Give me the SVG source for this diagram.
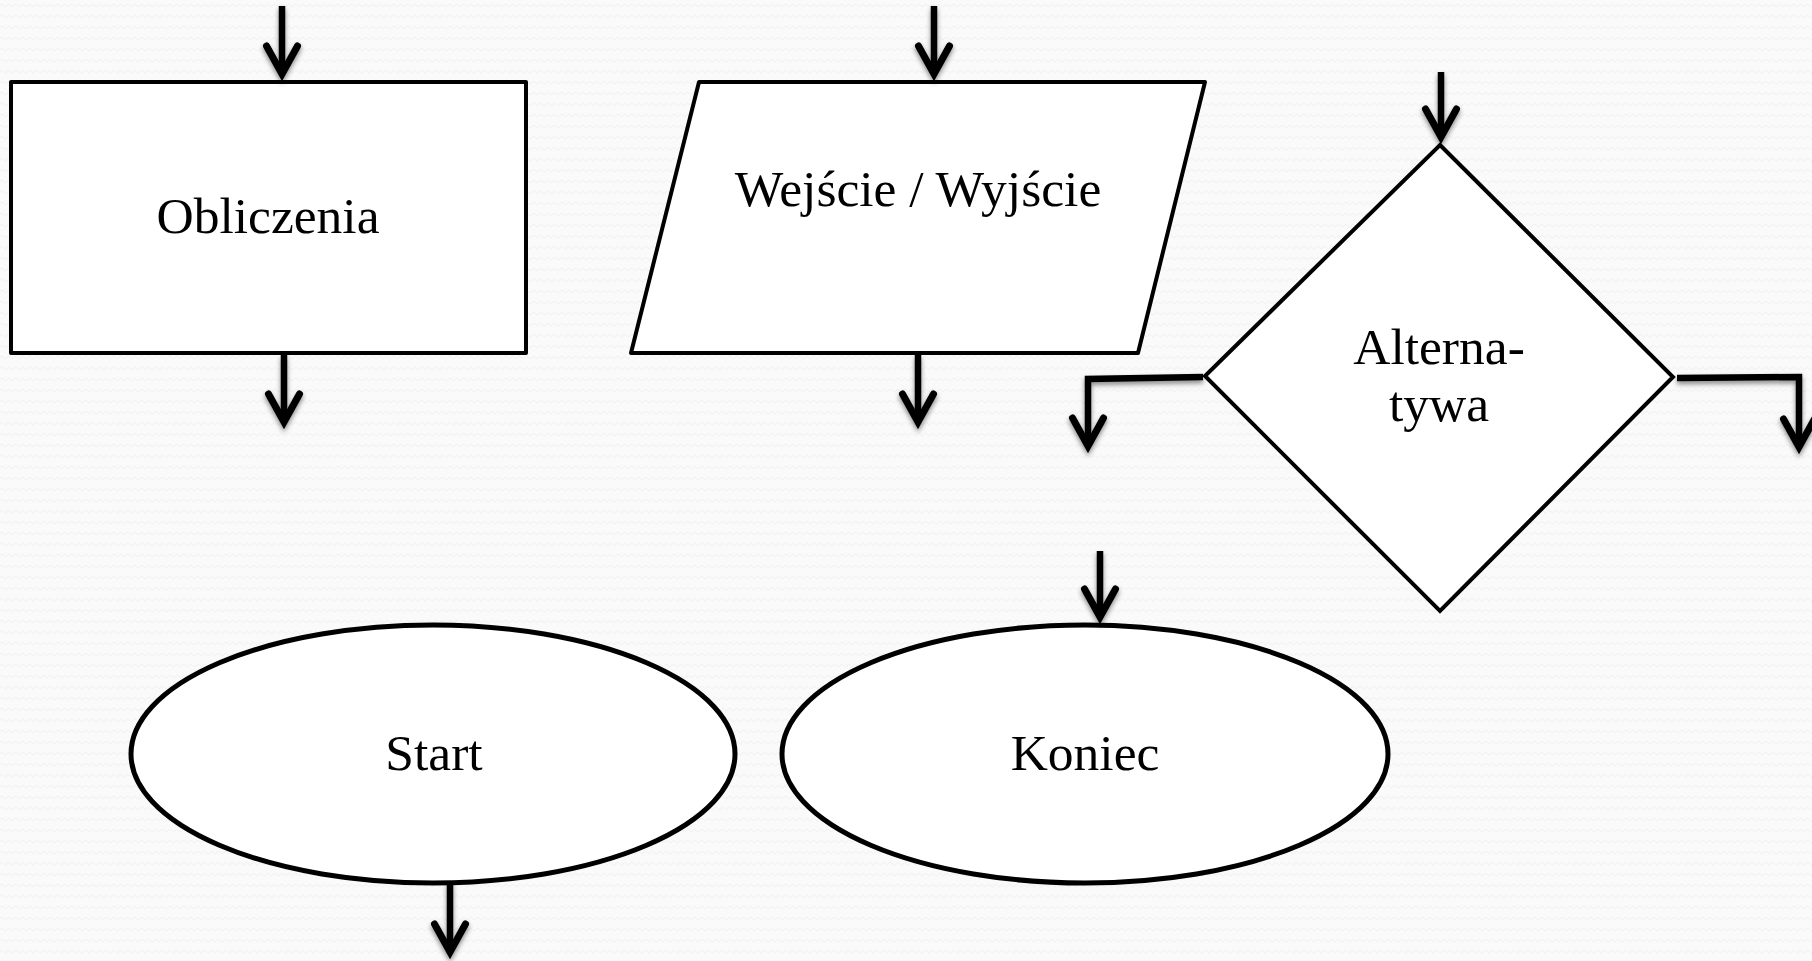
<svg xmlns="http://www.w3.org/2000/svg" width="1812" height="961" viewBox="0 0 1812 961">
  <defs>
    <!-- faint wavy paper texture -->
    <pattern id="waves" width="7" height="11" patternUnits="userSpaceOnUse">
      <rect width="7" height="11" fill="#fafafa"/>
      <path d="M0 5.5 Q1.75 3 3.5 5.5 T7 5.5" fill="none" stroke="#f0f0f0" stroke-width="1"/>
    </pattern>
    <!-- soft shadow under connector lines -->
    <filter id="shadow" x="-20%" y="-20%" width="140%" height="140%">
      <feDropShadow dx="0" dy="3" stdDeviation="2.5" flood-color="#000" flood-opacity="0.45"/>
    </filter>
    <!-- open V arrowhead -->
    <marker id="vhead" markerUnits="userSpaceOnUse" markerWidth="60" markerHeight="60" refX="0" refY="0" orient="auto" overflow="visible">
      <path d="M -28 -15.5 L 0 0 L -28 15.5" fill="none" stroke="#000" stroke-width="7" stroke-linecap="round" stroke-linejoin="miter" stroke-miterlimit="10"/>
    </marker>
  </defs>
  <style>
    .shape { fill: #ffffff; stroke: #000000; stroke-width: 4; stroke-linejoin: round; }
    .oval { fill: #ffffff; stroke: #000000; stroke-width: 5; }
    .label { font-family: "Liberation Serif", "Times New Roman", serif; font-size: 51.5px; fill: #000000; text-anchor: middle; }
    .conn { fill: none; stroke: #000000; stroke-width: 6.5; stroke-linejoin: miter; marker-end: url(#vhead); }
  </style>

  <rect width="1812" height="961" fill="url(#waves)"/>

  <!-- process block -->
  <g id="node-obliczenia">
    <rect class="shape" x="11" y="82" width="515" height="271"/>
    <text class="label" x="268" y="233">Obliczenia</text>
  </g>

  <!-- input / output block -->
  <g id="node-wejscie-wyjscie">
    <polygon class="shape" points="699,82 1205,82 1138,353 631,353"/>
    <text class="label" x="918" y="206">Wejście / Wyjście</text>
  </g>

  <!-- decision block -->
  <g id="node-alternatywa">
    <polygon class="shape" style="stroke-linejoin:miter" points="1440,145 1673,377 1440,611 1205,376"/>
    <text class="label" x="1439" y="364">Alterna-</text>
    <text class="label" x="1439" y="421">tywa</text>
  </g>

  <!-- terminators -->
  <g id="node-start">
    <ellipse class="oval" cx="433" cy="754" rx="302" ry="129"/>
    <text class="label" x="434" y="770">Start</text>
  </g>

  <g id="node-koniec">
    <ellipse class="oval" cx="1085" cy="754" rx="303" ry="129"/>
    <text class="label" x="1085" y="770">Koniec</text>
  </g>

  <!-- flow lines -->
  <g id="connectors" filter="url(#shadow)">
    <path class="conn" d="M 282 6 L 282 74"/>
    <path class="conn" d="M 284 355 L 284 422"/>
    <path class="conn" d="M 934 6 L 934 74"/>
    <path class="conn" d="M 918 355 L 918 422"/>
    <path class="conn" d="M 1441 72 L 1441 137"/>
    <path class="conn" d="M 1203 377 L 1088 379 L 1088 446"/>
    <path class="conn" d="M 1677 378 L 1799 377 L 1799 447"/>
    <path class="conn" d="M 1100 551 L 1100 617"/>
    <path class="conn" d="M 450 882 L 450 952"/>
  </g>
</svg>
